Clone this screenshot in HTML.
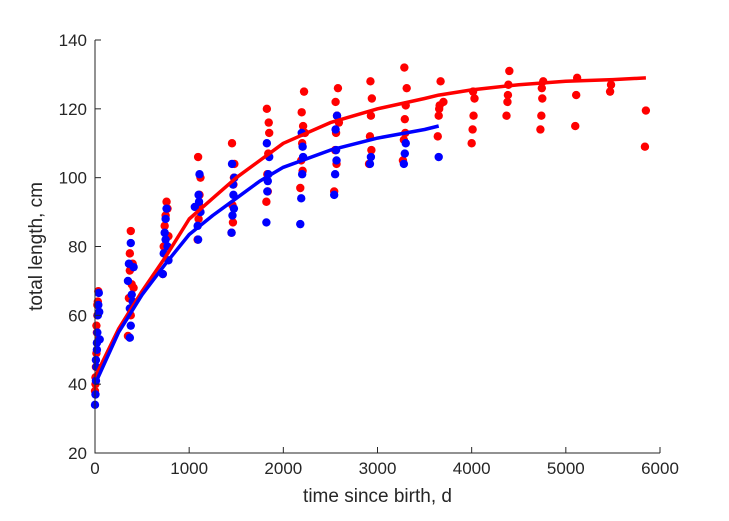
<!DOCTYPE html>
<html><head><meta charset="utf-8"><style>
body{margin:0;background:#fff;}
svg{display:block;font-family:"Liberation Sans",sans-serif;}
</style></head><body>
<svg id="chart" width="729" height="521" viewBox="0 0 729 521" xmlns="http://www.w3.org/2000/svg">
<rect width="729" height="521" fill="#fff"/>
<g id="marks"></g>
<g id="axes"></g>
</svg>
<script>
const xTicks=[0,1000,2000,3000,4000,5000,6000];
const yTicks=[20,40,60,80,100,120,140];
const redT=[0,5,10,15,20,25,30,35,40,5,15,25,350,360,370,380,390,400,410,380,370,720,730,740,750,760,770,780,1090,1100,1110,1120,1095,1105,1450,1460,1470,1480,1455,1465,1475,1820,1830,1840,1850,1825,1835,1845,2180,2190,2200,2210,2220,2195,2205,2230,2540,2550,2560,2570,2580,2555,2565,2590,2910,2920,2930,2940,2925,2935,3270,3280,3290,3300,3310,3285,3295,3640,3650,3660,3670,3700,3655,4000,4010,4020,4030,4015,4370,4380,4390,4400,4385,4730,4740,4750,4760,4745,5100,5110,5120,5470,5480,5840,5850];
const redL=[38,42,45,49,55,60,64,67,53,40,57,63,54,65,73,84.5,69,75,68,60,78,72,80,86,89,93,91,83,82,88,95,100,106,92,84,92,98,104,110,87,100,93,101,107,113,120,96,116,97,105,110,115,125,119,102,113,96,108,113,118,126,122,104,116,104,112,118,123,128,108,105,111,117,121,126,132,113,112,118,121,128,122,120,110,114,118,123,125,118,122,127,131,124,114,118,123,128,126,115,124,129,125,127,109,119.5];
const blueT=[0,5,10,15,20,25,30,35,40,45,50,10,20,350,360,370,380,390,400,410,370,380,720,730,740,750,760,770,780,750,1060,1090,1100,1110,1120,1095,1105,1450,1460,1470,1480,1455,1465,1475,1820,1830,1840,1850,1825,1835,2180,2190,2200,2210,2195,2205,2540,2550,2560,2570,2555,2565,2920,2930,3280,3290,3300,3650];
const blueL=[34,37,41,45,50,55,60,63,66.5,61,53,47,52,70,75,62,81,66,64,74,53.5,57,72,78,84,88,91,80,76,82,91.5,86,95,101,90,82,93,84,89,95,100,104,98,91,87,96,101,106,110,99,86.5,94,101,106,113,109,95,101,108,118,114,105,104,106,104,107,110,106];
const curveT=[0,250,500,750,1000,1250,1500,1750,2000,2500,3000,3500,3650,4000,4500,5000,5500,5850];
const redCurve=[42,56,67,77,88,94,100,105,110,116,120,123,124,125.5,127,128,128.5,129];
const blueCurve=[40,55,66,75,83.5,89,94,99,103,108,111.5,114,115];

const X0=95,X1=660,Y0=453,Y1=40;
const xs=v=>X0+(v-0)/(6000-0)*(X1-X0);
const ys=v=>Y0-(v-20)/(140-20)*(Y0-Y1);
const NS="http://www.w3.org/2000/svg";
const marks=document.getElementById('marks'),axes=document.getElementById('axes');
function mk(tag,attrs,parent){const e=document.createElementNS(NS,tag);for(const k in attrs)e.setAttribute(k,attrs[k]);parent.appendChild(e);return e;}

function dots(T,L,color,name){
  const g=mk('g',{},marks);
  
  
  T.forEach((t,i)=>{
    const c=mk('circle',{cx:xs(t),cy:ys(L[i]),r:4.2,fill:color},g);
    
    
  });
}
function curve(T,L,color,name){
  const d=L.map((v,i)=>(i?'L':'M')+xs(T[i]).toFixed(1)+','+ys(v).toFixed(1)).join('');
  const p=mk('path',{d:d,fill:'none',stroke:color,'stroke-width':3.5,'stroke-linejoin':'round'},marks);
  
  
}
dots(redT,redL,'#ff0000','red-series');
dots(blueT,blueL,'#0000ff','blue-series');
curve(curveT,redCurve,'#ff0000','red-fit-curve');
curve(curveT.slice(0,blueCurve.length),blueCurve,'#0000ff','blue-fit-curve');

const ax=mk('path',{d:`M${X0},${Y1}L${X0},${Y0}L${X1},${Y0}`,fill:'none',stroke:'#262626','stroke-width':1},axes);


xTicks.forEach(v=>{
  mk('line',{x1:xs(v),x2:xs(v),y1:Y0,y2:Y0-6,stroke:'#262626'},axes);
  const t=mk('text',{x:xs(v),y:Y0+21,'text-anchor':'middle','font-size':17,fill:'#262626'},axes);
  t.textContent=v;
  
  
});
yTicks.forEach(v=>{
  mk('line',{x1:X0,x2:X0+6,y1:ys(v),y2:ys(v),stroke:'#262626'},axes);
  const t=mk('text',{x:X0-8,y:ys(v)+6,'text-anchor':'end','font-size':17,fill:'#262626'},axes);
  t.textContent=v;
  
  
});
const xt=mk('text',{x:(X0+X1)/2,y:Y0+49,'text-anchor':'middle','font-size':19,fill:'#262626'},axes);
xt.textContent='time since birth, d';


const yt=mk('text',{x:0,y:0,'text-anchor':'middle','font-size':19,fill:'#262626',transform:`translate(42,${(Y0+Y1)/2}) rotate(-90)`},axes);
yt.textContent='total length, cm';


</script>
</body></html>
